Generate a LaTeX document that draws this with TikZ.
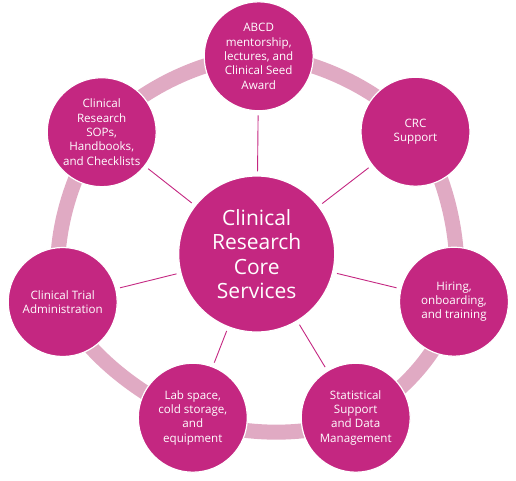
\documentclass[tikz,border=0pt]{standalone}
\usepackage{fontspec}
\setmainfont{Open Sans}
\definecolor{corepink}{HTML}{C42781}
\definecolor{ringpink}{HTML}{E0AAC3}
\tikzset{
  hub/.style={circle, fill=corepink, draw=white, line width=1.2pt, minimum size=156pt,
    inner sep=0pt, text=white, align=center, font=\fontsize{21}{24.3}\selectfont},
  sat/.style={circle, fill=corepink, draw=white, line width=1.2pt, minimum size=109pt,
    inner sep=0pt, text=white, align=center, font=\fontsize{11.6}{14.3}\selectfont},
  spoke/.style={draw=corepink, line width=0.9pt, shorten <=4pt, shorten >=4pt},
  ring/.style={draw=ringpink, line width=15pt},
}

\begin{document}
\begin{tikzpicture}[x=1pt, y=-1pt]
		%%%%% START %%%%%
		\useasboundingbox (0,0) rectangle (516,480);
		
		\coordinate (c-core) at (256.7, 254);
		\coordinate (c-abcd) at (258.7, 56.3);
		\coordinate (c-crc)  at (415.5, 131.7);
		\coordinate (c-hire) at (454, 301.7);
		\coordinate (c-stat) at (355.7, 417.7);
		\coordinate (c-lab)  at (192.8, 417.7);
		\coordinate (c-ctrial) at (62.7, 302);
		\coordinate (c-sops) at (101.7, 132.2);
		
		% ring behind the circles
		\draw[ring] plot[smooth cycle, tension=0.6] coordinates {(c-abcd) (c-crc) (c-hire) (c-stat) (c-lab) (c-ctrial) (c-sops)};
		
		\node[hub] (core) at (c-core) {Clinical\\Research\\Core\\Services};
		
		\node[sat] (abcd) at (c-abcd) {ABCD\\mentorship,\\lectures, and\\Clinical Seed\\Award};
		\node[sat] (crc) at (c-crc) {CRC\\Support};
		\node[sat] (hire) at (c-hire) {Hiring,\\onboarding,\\and training};
		\node[sat] (stat) at (c-stat) {Statistical\\Support\\and Data\\Management};
		\node[sat] (lab) at (c-lab) {Lab space,\\cold storage,\\and\\equipment};
		\node[sat] (ctrial) at (c-ctrial) {Clinical Trial\\Administration};
		\node[sat] (sops) at (c-sops) {Clinical\\Research\\SOPs,\\Handbooks,\\and Checklists};
		
		% spokes
		\foreach \s in {abcd,crc,hire,stat,lab,ctrial,sops}
			\draw[spoke] (core) -- (\s);
		
		%%%%% END %%%%%
\end{tikzpicture}
\end{document}
